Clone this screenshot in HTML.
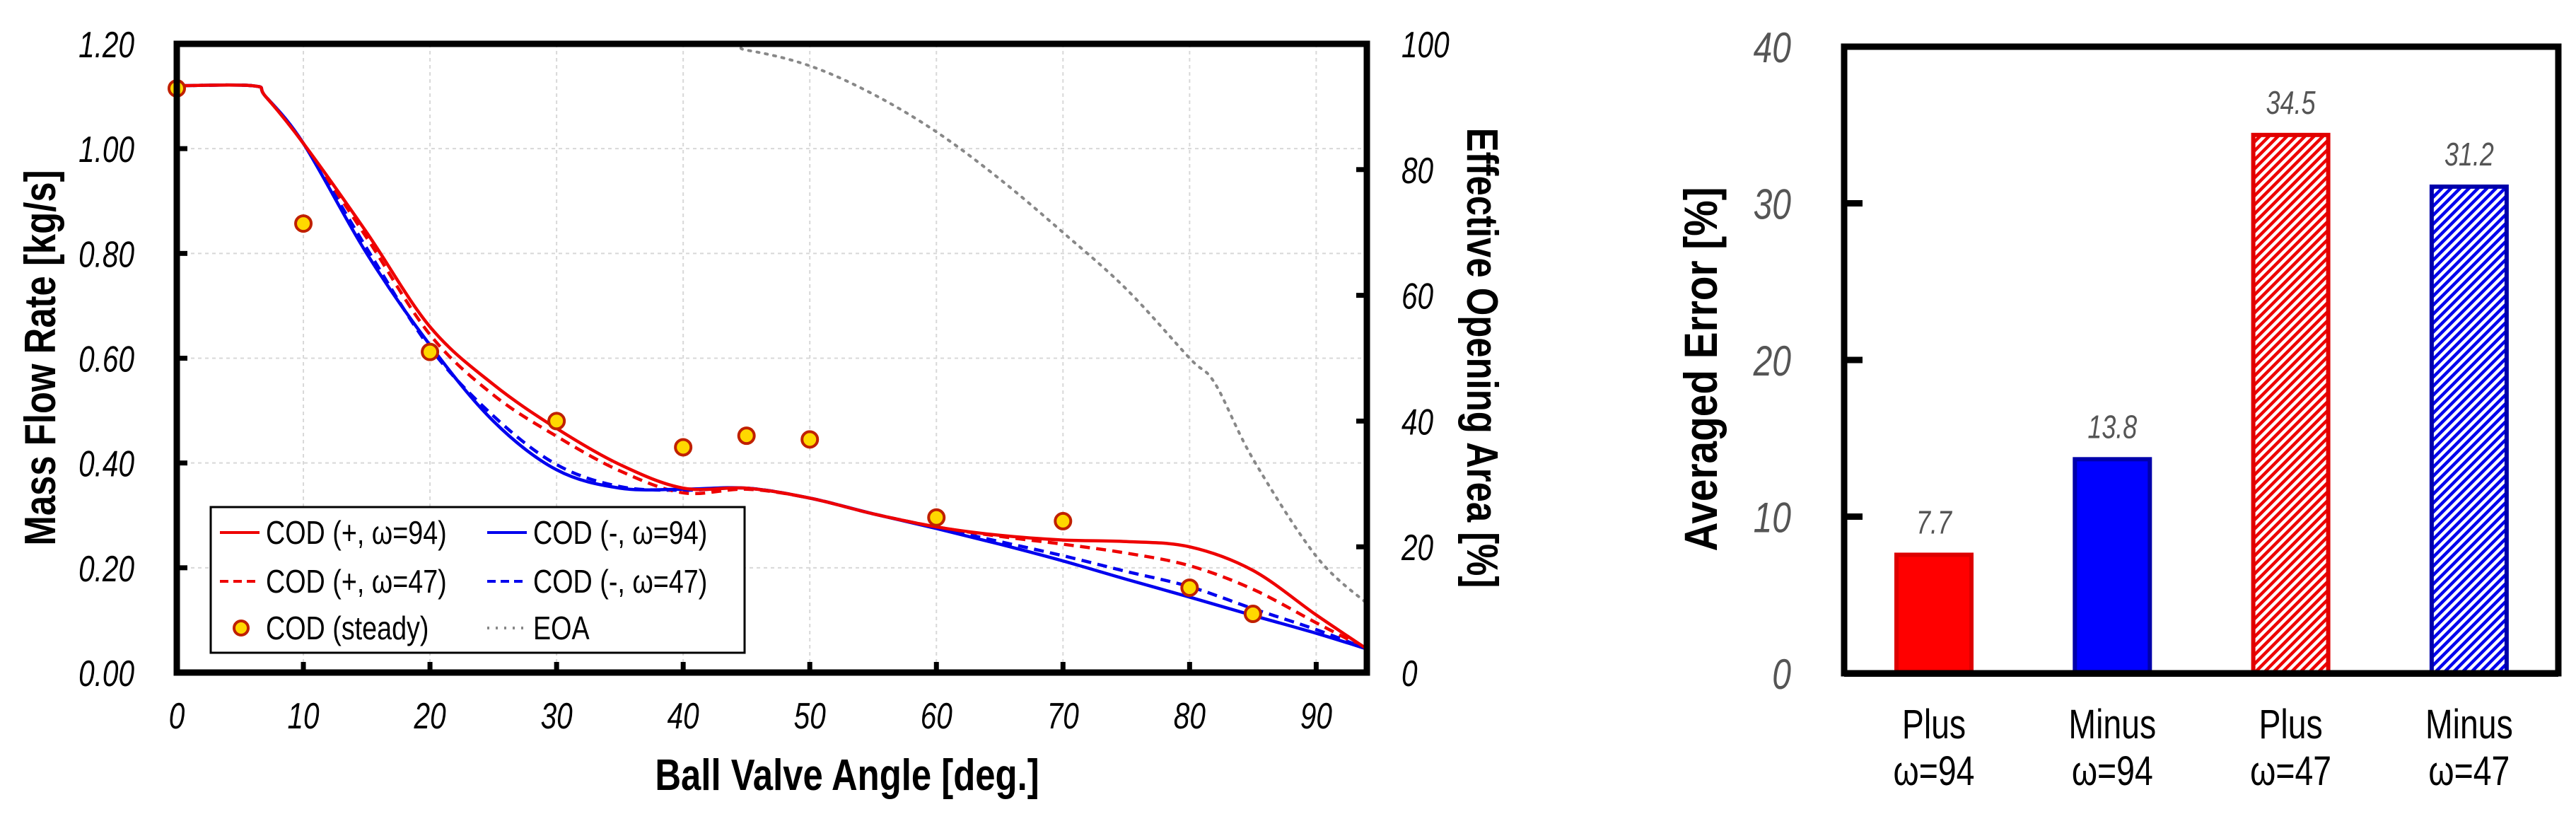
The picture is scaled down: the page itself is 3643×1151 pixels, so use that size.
<!DOCTYPE html>
<html><head><meta charset="utf-8"><style>
html,body{margin:0;padding:0;background:#fff;}
svg{display:block;}
</style></head><body>
<svg id="fig" xmlns="http://www.w3.org/2000/svg" width="3643" height="1151" viewBox="0 0 3643 1151">
<defs>
<pattern id="hatchRed" patternUnits="userSpaceOnUse" width="9" height="9" patternTransform="rotate(45)">
<rect width="9" height="9" fill="#fff"/><rect x="0" y="0" width="4.5" height="9" fill="#ee0000"/></pattern>
<pattern id="hatchBlue" patternUnits="userSpaceOnUse" width="9" height="9" patternTransform="rotate(45)">
<rect width="9" height="9" fill="#fff"/><rect x="0" y="0" width="4.5" height="9" fill="#0000ee"/></pattern>
</defs>
<g id="left"></g>
<g id="right"></g>
</svg>
<script>
// ---- left chart data ----
const angleKnots = [0,6,7,10,15,20,25,30,35,40,45,50,55,60,65,70,75,80,85,90,94];
const codPlus94  = [1.12,1.12,1.10,1.01,0.84,0.66,0.55,0.466,0.397,0.352,0.352,0.333,0.303,0.278,0.262,0.253,0.25,0.24,0.195,0.11,0.045];
const codPlus47  = [1.12,1.12,1.10,1.01,0.83,0.645,0.53,0.451,0.385,0.343,0.35,0.333,0.303,0.278,0.26,0.245,0.228,0.204,0.159,0.095,0.045];
const codMinus94 = [1.12,1.12,1.10,1.01,0.80,0.625,0.48,0.387,0.352,0.35,0.352,0.333,0.303,0.275,0.245,0.213,0.178,0.144,0.109,0.075,0.045];
const codMinus47 = [1.12,1.12,1.10,1.01,0.81,0.62,0.49,0.397,0.355,0.348,0.352,0.333,0.303,0.277,0.25,0.223,0.193,0.164,0.122,0.082,0.045];
const eoaAngles = [0,40,45,50,55,60,65,70,75,80,82,85,90,94];
const eoaValues = [100,100,99,96.5,92,86,78.5,70,61,50,46,34,18.5,11];
const steadyAngles = [0,10,20,30,40,45,50,60,70,80,85];
const steadyValues = [1.115,0.857,0.612,0.48,0.43,0.452,0.445,0.296,0.289,0.162,0.112];
const xTicks = [0,10,20,30,40,50,60,70,80,90];
const yTicks = [0,0.2,0.4,0.6,0.8,1.0,1.2];
const yTickLabels = ["0.00","0.20","0.40","0.60","0.80","1.00","1.20"];
const y2Ticks = [0,20,40,60,80,100];
// ---- bar chart data ----
const barCats1 = ["Plus","Minus","Plus","Minus"];
const barCats2 = ["ω=94","ω=94","ω=47","ω=47"];
const barValues = [7.7,13.8,34.5,31.2];
const barLabels = ["7.7","13.8","34.5","31.2"];
const barTicks = [0,10,20,30,40];

const NS="http://www.w3.org/2000/svg";
const L=document.getElementById('left'), R=document.getElementById('right');
function mk(parent,tag,attrs){const e=document.createElementNS(NS,tag);for(const k in attrs)e.setAttribute(k,attrs[k]);parent.appendChild(e);return e;}
function txt(parent,x,y,s,size,opt){
  opt=opt||{};
  const g=mk(parent,'g',{transform:`translate(${x},${y}) rotate(${opt.rot||0}) scale(${opt.sx||0.78},1)`});
  const t=mk(g,'text',{x:0,y:0,'font-family':'"Liberation Sans", Arial, sans-serif','font-size':size,'text-anchor':opt.anchor||'middle',fill:opt.fill||'#000'});
  if(opt.bold)t.setAttribute('font-weight','bold');
  if(opt.italic)t.setAttribute('font-style','italic');
  t.textContent=s;
  return t;
}
const X0=250,X1=1933,Y0=951,Ytop=62;
const xs=a=>X0+(a/94)*(X1-X0);
const ys=v=>Y0-(v/1.2)*(Y0-Ytop);
const ys2=v=>Y0-(v/100)*(Y0-Ytop);
xTicks.slice(1).forEach(a=>{const l=mk(L,'line',{x1:xs(a),x2:xs(a),y1:Ytop,y2:Y0,stroke:'#d8d8d8','stroke-width':2,'stroke-dasharray':'5,5'});

});
yTicks.slice(1).forEach(v=>{const l=mk(L,'line',{x1:X0,x2:X1,y1:ys(v),y2:ys(v),stroke:'#d8d8d8','stroke-width':2,'stroke-dasharray':'5,5'});

});
function smooth(px,py){
  let d=`M${px[0]},${py[0]}`;
  for(let i=0;i<px.length-1;i++){
    const x0=px[Math.max(i-1,0)],y0=py[Math.max(i-1,0)],x1=px[i],y1=py[i],x2=px[i+1],y2=py[i+1],x3=px[Math.min(i+2,px.length-1)],y3=py[Math.min(i+2,px.length-1)];
    const c1x=x1+(x2-x0)/6,c1y=y1+(y2-y0)/6,c2x=x2-(x3-x1)/6,c2y=y2-(y3-y1)/6;
    d+=` C${c1x},${c1y} ${c2x},${c2y} ${x2},${y2}`;
  }
  return d;
}
function series(vals,color,dash,name){
  const p=mk(L,'path',{d:smooth(angleKnots.map(xs),vals.map(ys)),fill:'none',stroke:color,'stroke-width':4.5,'stroke-linejoin':'round'});
  if(dash)p.setAttribute('stroke-dasharray',dash);
  
  
}
const eoa=mk(L,'path',{d:smooth(eoaAngles.map(xs),eoaValues.map(ys2)),fill:'none',stroke:'#888','stroke-width':4,'stroke-dasharray':'3,9','stroke-linecap':'round'});


series(codMinus47,'#0000ee','14,9','cod-minus-47-line');
series(codPlus47,'#ee0000','14,9','cod-plus-47-line');
series(codMinus94,'#0000ee',null,'cod-minus-94-line');
series(codPlus94,'#ee0000',null,'cod-plus-94-line');
steadyAngles.forEach((a,i)=>{const c=mk(L,'circle',{cx:xs(a),cy:ys(steadyValues[i]),r:11,fill:'#ffd800',stroke:'#c02000','stroke-width':4});

});
const fr=mk(L,'rect',{x:X0,y:Ytop,width:X1-X0,height:Y0-Ytop,fill:'none',stroke:'#000','stroke-width':9});


mk(L,'line',{x1:X0,x2:X1,y1:Ytop,y2:Ytop,stroke:'#000','stroke-width':9,'stroke-dasharray':'18,4'});
xTicks.forEach(a=>{mk(L,'line',{x1:xs(a),x2:xs(a),y1:Y0,y2:Y0-15,stroke:'#000','stroke-width':7});
const t=txt(L,xs(a),1030,String(a),52,{italic:true,sx:0.78});

});
yTicks.forEach((v,i)=>{mk(L,'line',{x1:X0,x2:X0+15,y1:ys(v),y2:ys(v),stroke:'#000','stroke-width':7});
const t=txt(L,190,ys(v)+19,yTickLabels[i],52,{italic:true,anchor:'end',sx:0.78});

});
y2Ticks.forEach(v=>{mk(L,'line',{x1:X1,x2:X1-15,y1:ys2(v),y2:ys2(v),stroke:'#000','stroke-width':7});
const t=txt(L,1982,ys2(v)+19,String(v),52,{italic:true,anchor:'start',sx:0.78});

});
let t;
t=txt(L,1198,1117,'Ball Valve Angle [deg.]',62,{bold:true,sx:0.82});


t=txt(L,78,506,'Mass Flow Rate [kg/s]',62,{bold:true,rot:-90,sx:0.82});


t=txt(L,2075,506,'Effective Opening Area [%]',62,{bold:true,rot:90,sx:0.82});


const lg=mk(L,'g',{});


mk(lg,'rect',{x:298,y:717,width:755,height:206,fill:'#fff',stroke:'#000','stroke-width':3});
const legRows=[[753,'COD (+, ω=94)','#ee0000',null,'line',689,'COD (-, ω=94)','#0000ee',null,'line'],
[822,'COD (+, ω=47)','#ee0000','12,7','line',689,'COD (-, ω=47)','#0000ee','12,7','line'],
[888,'COD (steady)',null,null,'dot',689,'EOA','#888','3,9','line']];
legRows.forEach(r=>{
  const y=r[0];
  [[311,r[1],r[2],r[3],r[4]],[r[5],r[6],r[7],r[8],r[9]]].forEach(e=>{
    if(e[4]==='dot'){mk(lg,'circle',{cx:e[0]+30,cy:y,r:10,fill:'#ffd800',stroke:'#c02000','stroke-width':4});}
    else{const l=mk(lg,'line',{x1:e[0],x2:e[0]+56,y1:y,y2:y,stroke:e[2],'stroke-width':4});if(e[3])l.setAttribute('stroke-dasharray',e[3]);}
    const tt=txt(lg,e[0]+65,y+16,e[1],46,{anchor:'start',sx:0.82});
    
    
  });
});

const BX0=2608,BX1=3618,BY0=952,BYt=66;
const bys=v=>BY0-(v/40)*(BY0-BYt);
const bxc=i=>2735+i*252.3;
const fills=['#ff0000','#0000ff','url(#hatchRed)','url(#hatchBlue)'];
const strokes=['#dd0000','#0000aa','#e00000','#0000aa'];
barValues.forEach((v,i)=>{
  const r=mk(R,'rect',{x:bxc(i)-53,y:bys(v)+3,width:106,height:BY0-bys(v)-3,fill:fills[i],stroke:strokes[i],'stroke-width':6});
  
  
  const l=txt(R,bxc(i),bys(v)-27,barLabels[i],46,{italic:true,fill:'#555',sx:0.78});
  
  
  const c1=txt(R,bxc(i),1044,barCats1[i],58,{sx:0.8});
  
  
  const c2=txt(R,bxc(i),1110,barCats2[i],58,{sx:0.8});
  
  
});
const bf=mk(R,'path',{d:`M${BX0},${BY0} L${BX0},${BYt} L${BX1},${BYt} L${BX1},${BY0} Z`,fill:'none',stroke:'#000','stroke-width':9});


mk(R,'line',{x1:BX0,x2:BX1,y1:BY0+3,y2:BY0+3,stroke:'#000','stroke-width':4});
barTicks.forEach(v=>{
  if(v>0&&v<40)mk(R,'line',{x1:BX0,x2:BX0+26,y1:bys(v),y2:bys(v),stroke:'#000','stroke-width':9});
  const tl=txt(R,2533,bys(v)+22,String(v),60,{italic:true,anchor:'end',fill:'#555',sx:0.8});
  
  
});
t=txt(R,2428,522,'Averaged Error [%]',66,{bold:true,rot:-90,sx:0.86});


</script>
</body></html>
